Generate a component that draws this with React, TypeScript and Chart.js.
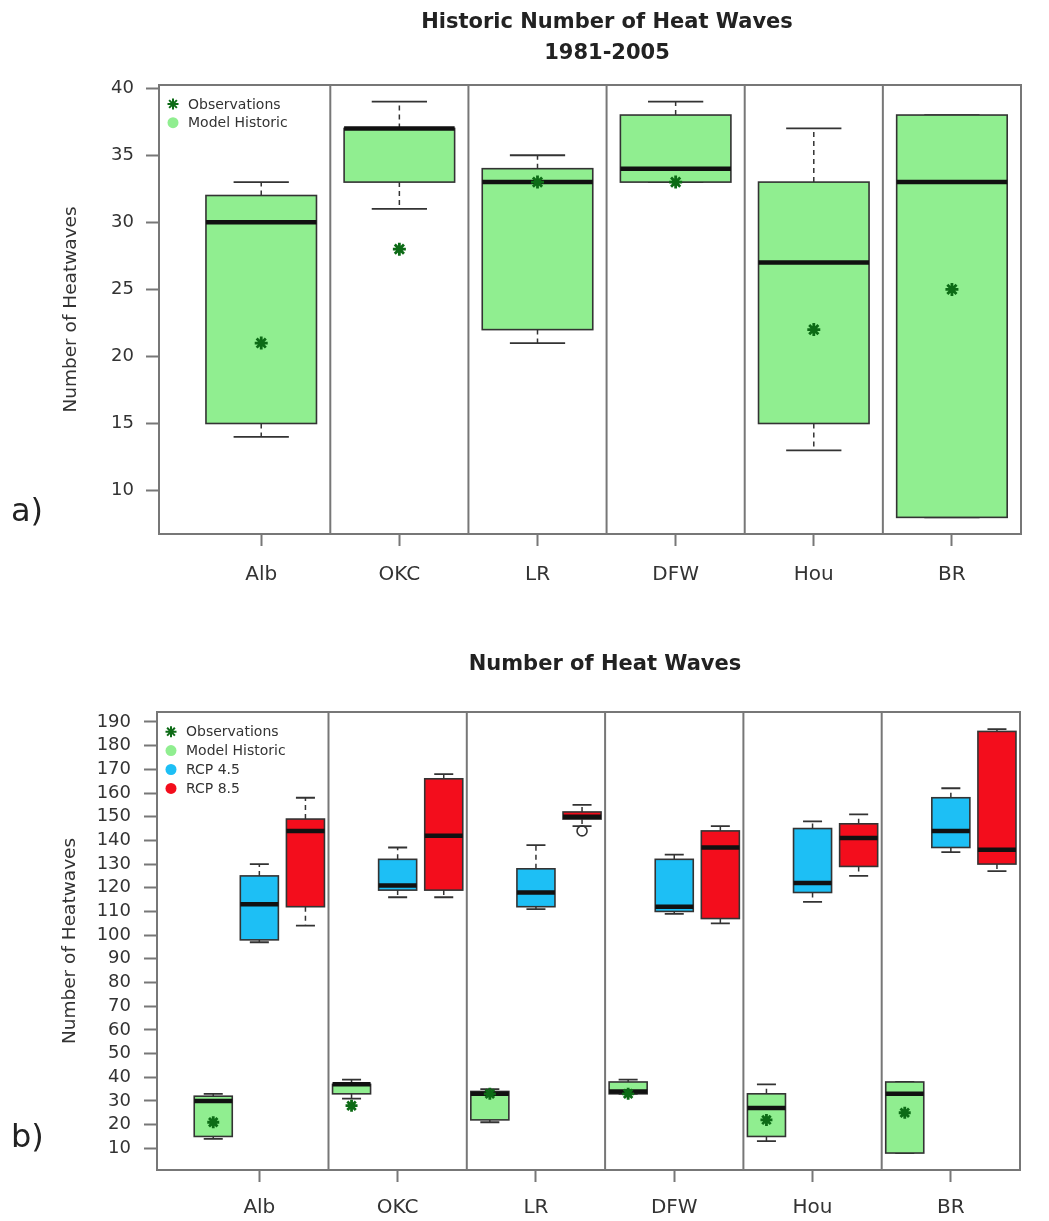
import { useEffect, useRef } from 'react';
import { Chart, registerables } from 'chart.js';

Chart.register(...registerables);

// ---------- DATA ----------
const categories = ['Alb', 'OKC', 'LR', 'DFW', 'Hou', 'BR'];

// Observations (single values per city)
const observations = [21, 28, 33, 33, 22, 25];

// Model Historic (1981-2005) box statistics
const histLow = [14, 31, 21, 33, 13, 8];
const histQ1 = [15, 33, 22, 33, 15, 8];
const histMed = [30, 37, 33, 34, 27, 33];
const histQ3 = [32, 37, 34, 38, 33, 38];
const histHigh = [33, 39, 35, 39, 37, 38];

// RCP 4.5 box statistics
const r45Low = [97, 116, 111, 109, 114, 135];
const r45Q1 = [98, 119, 112, 110, 118, 137];
const r45Med = [113, 121, 118, 112, 122, 144];
const r45Q3 = [125, 132, 128, 132, 145, 158];
const r45High = [130, 137, 138, 134, 148, 162];

// RCP 8.5 box statistics
const r85Low = [104, 116, 146, 105, 125, 127];
const r85Q1 = [112, 119, 149, 107, 129, 130];
const r85Med = [144, 142, 150, 137, 141, 136];
const r85Q3 = [149, 166, 152, 144, 147, 186];
const r85High = [158, 168, 155, 146, 151, 187];
const r85Outliers: number[][] = [[], [], [144], [], [], []];

// Tick labels
const yTicksTop = [10, 15, 20, 25, 30, 35, 40];
const yTicksBottom = [10, 20, 30, 40, 50, 60, 70, 80, 90, 100, 110, 120, 130, 140, 150, 160, 170, 180, 190];

// ---------- STYLE ----------
const FONT = "'DejaVu Sans', 'Liberation Sans', sans-serif";
const C_GREEN = '#90EE90';
const C_BLUE = '#1DBFF5';
const C_RED = '#F30D1C';
const C_OBS = '#0d6b16';
const C_AXIS = '#777777';
const C_TEXT = '#333333';

Chart.defaults.font.family = FONT;

type Group = {
  offset: number;
  width: number;
  color: string;
  low: number[];
  q1: number[];
  med: number[];
  q3: number[];
  high: number[];
  outliers?: number[][];
};

type LegendItem = { label: string; kind: 'star' | 'dot'; color: string };

function drawStar(ctx: CanvasRenderingContext2D, x: number, y: number, r: number, color: string) {
  ctx.save();
  ctx.strokeStyle = color;
  ctx.lineWidth = 2;
  ctx.beginPath();
  ctx.moveTo(x - r, y); ctx.lineTo(x + r, y);
  ctx.moveTo(x, y - r); ctx.lineTo(x, y + r);
  const d = r * 0.7071;
  ctx.moveTo(x - d, y - d); ctx.lineTo(x + d, y + d);
  ctx.moveTo(x - d, y + d); ctx.lineTo(x + d, y - d);
  ctx.stroke();
  ctx.restore();
}

const boxPlugin = {
  id: 'boxes',
  beforeDatasetsDraw(chart: any, _args: any, opts: any) {
    const { ctx, chartArea } = chart;
    const xs = chart.scales.x;
    const ys = chart.scales.y;
    ctx.save();
    // separators between cities
    ctx.strokeStyle = C_AXIS;
    ctx.lineWidth = 2;
    for (let k = 1; k < categories.length; k++) {
      const px = xs.getPixelForValue(k + 0.5);
      ctx.beginPath();
      ctx.moveTo(px, chartArea.top);
      ctx.lineTo(px, chartArea.bottom);
      ctx.stroke();
    }
    // frame
    ctx.strokeRect(chartArea.left, chartArea.top, chartArea.right - chartArea.left, chartArea.bottom - chartArea.top);

    const groups: Group[] = opts.groups;
    groups.forEach((g) => {
      categories.forEach((_c, i) => {
        const cx = xs.getPixelForValue(i + 1 + g.offset);
        const half = (xs.getPixelForValue(g.width) - xs.getPixelForValue(0)) / 2;
        const yLow = ys.getPixelForValue(g.low[i]);
        const yQ1 = ys.getPixelForValue(g.q1[i]);
        const yMed = ys.getPixelForValue(g.med[i]);
        const yQ3 = ys.getPixelForValue(g.q3[i]);
        const yHigh = ys.getPixelForValue(g.high[i]);
        // whiskers (dashed)
        ctx.strokeStyle = '#333';
        ctx.lineWidth = 1.5;
        ctx.setLineDash([5, 4]);
        ctx.beginPath();
        ctx.moveTo(cx, yQ3); ctx.lineTo(cx, yHigh);
        ctx.moveTo(cx, yQ1); ctx.lineTo(cx, yLow);
        ctx.stroke();
        ctx.setLineDash([]);
        // staples
        ctx.lineWidth = 1.8;
        ctx.beginPath();
        ctx.moveTo(cx - half / 2, yHigh); ctx.lineTo(cx + half / 2, yHigh);
        ctx.moveTo(cx - half / 2, yLow); ctx.lineTo(cx + half / 2, yLow);
        ctx.stroke();
        // box
        ctx.fillStyle = g.color;
        ctx.fillRect(cx - half, yQ3, 2 * half, yQ1 - yQ3);
        ctx.strokeStyle = '#333';
        ctx.lineWidth = 1.6;
        ctx.strokeRect(cx - half, yQ3, 2 * half, yQ1 - yQ3);
        // median
        ctx.strokeStyle = '#111';
        ctx.lineWidth = 4.5;
        ctx.beginPath();
        ctx.moveTo(cx - half, yMed); ctx.lineTo(cx + half, yMed);
        ctx.stroke();
        // outliers
        (g.outliers?.[i] || []).forEach((v) => {
          const oy = ys.getPixelForValue(v);
          ctx.strokeStyle = '#333';
          ctx.lineWidth = 1.6;
          ctx.beginPath();
          ctx.arc(cx, oy, 5, 0, Math.PI * 2);
          ctx.stroke();
        });
      });
    });
    ctx.restore();
  },
  afterDraw(chart: any, _args: any, opts: any) {
    const { ctx } = chart;
    ctx.save();
    // titles
    ctx.fillStyle = '#222';
    ctx.textAlign = 'center';
    ctx.textBaseline = 'alphabetic';
    ctx.font = `bold 21px ${FONT}`;
    (opts.titles || []).forEach((t: any) => ctx.fillText(t.text, t.x, t.y));
    // panel label
    ctx.textAlign = 'left';
    ctx.font = `32px ${FONT}`;
    ctx.fillText(opts.panel.text, opts.panel.x, opts.panel.y);
    // legend
    const lg = opts.legend;
    ctx.font = `14px ${FONT}`;
    ctx.textBaseline = 'middle';
    lg.items.forEach((it: LegendItem, k: number) => {
      const y = lg.y0 + k * lg.dy;
      if (it.kind === 'star') {
        drawStar(ctx, lg.x, y, 5.5, it.color);
      } else {
        ctx.fillStyle = it.color;
        ctx.beginPath();
        ctx.arc(lg.x, y, 5.5, 0, Math.PI * 2);
        ctx.fill();
      }
      ctx.fillStyle = C_TEXT;
      ctx.fillText(it.label, lg.x + 15, y + 1);
    });
    ctx.restore();
  },
};

function makeConfig(p: any): any {
  return {
    type: 'scatter',
    data: {
      datasets: [
        {
          label: 'Observations',
          data: observations.map((v, i) => ({ x: i + 1 + p.obsOffset, y: v })),
          pointStyle: 'star',
          radius: p.obsRadius,
          borderWidth: 2.8,
          borderColor: C_OBS,
          backgroundColor: C_OBS,
        },
      ],
    },
    options: {
      responsive: false,
      animation: false,
      devicePixelRatio: 1,
      events: [],
      layout: { padding: { top: p.padTop, right: p.padRight, left: 0, bottom: 0 } },
      plugins: {
        legend: { display: false },
        tooltip: { enabled: false },
        title: { display: false },
        boxes: {
          groups: p.groups,
          titles: p.titles,
          panel: p.panel,
          legend: p.legend,
        },
      },
      scales: {
        x: {
          type: 'linear',
          min: 0.26,
          max: 6.5,
          afterBuildTicks: (s: any) => {
            s.ticks = categories.map((_c, i) => ({ value: i + 1 }));
          },
          afterFit: (s: any) => {
            s.height = p.xHeight;
          },
          ticks: {
            callback: (v: any) => categories[Math.round(v) - 1] ?? '',
            font: { size: 20, family: FONT },
            color: C_TEXT,
            padding: p.xLabelPad,
            maxRotation: 0,
            autoSkip: false,
          },
          grid: { display: true, drawOnChartArea: false, drawTicks: true, tickLength: 12, tickColor: C_AXIS, tickWidth: 2 },
          border: { display: false },
        },
        y: {
          type: 'linear',
          min: p.yMin,
          max: p.yMax,
          afterBuildTicks: (s: any) => {
            s.ticks = p.yTicks.map((v: number) => ({ value: v }));
          },
          afterFit: (s: any) => {
            s.width = p.yWidth;
          },
          ticks: {
            font: { size: 18, family: FONT },
            color: C_TEXT,
            padding: p.yLabelPad,
            autoSkip: false,
          },
          grid: { display: true, drawOnChartArea: false, drawTicks: true, tickLength: 13, tickColor: C_AXIS, tickWidth: 2 },
          border: { display: false },
          title: {
            display: true,
            text: 'Number of Heatwaves',
            color: C_TEXT,
            font: { size: 18.5, family: FONT },
            padding: { top: p.yTitlePad, bottom: 0 },
          },
        },
      },
    },
    plugins: [boxPlugin],
  };
}

const topGroups: Group[] = [
  { offset: 0, width: 0.8, color: C_GREEN, low: histLow, q1: histQ1, med: histMed, q3: histQ3, high: histHigh },
];

const bottomGroups: Group[] = [
  { offset: -1 / 3, width: 0.275, color: C_GREEN, low: histLow, q1: histQ1, med: histMed, q3: histQ3, high: histHigh },
  { offset: 0, width: 0.275, color: C_BLUE, low: r45Low, q1: r45Q1, med: r45Med, q3: r45Q3, high: r45High },
  { offset: 1 / 3, width: 0.275, color: C_RED, low: r85Low, q1: r85Q1, med: r85Med, q3: r85Q3, high: r85High, outliers: r85Outliers },
];

export default function App() {
  const ref1 = useRef<HTMLCanvasElement>(null);
  const ref2 = useRef<HTMLCanvasElement>(null);

  useEffect(() => {
    document.body.style.margin = '0';
    const c1 = new Chart(
      ref1.current as HTMLCanvasElement,
      makeConfig({
        groups: topGroups,
        obsOffset: 0,
        obsRadius: 6.5,
        yMin: 6.76,
        yMax: 40.24,
        yTicks: yTicksTop,
        padTop: 85,
        padRight: 28,
        xHeight: 76,
        yWidth: 159,
        xLabelPad: 17,
        yLabelPad: 12,
        yTitlePad: 60,
        titles: [
          { text: 'Historic Number of Heat Waves', x: 607, y: 28 },
          { text: '1981-2005', x: 607, y: 59 },
        ],
        panel: { text: 'a)', x: 11, y: 521 },
        legend: {
          x: 173,
          y0: 104,
          dy: 18.7,
          items: [
            { label: 'Observations', kind: 'star', color: C_OBS },
            { label: 'Model Historic', kind: 'dot', color: C_GREEN },
          ],
        },
      })
    );
    const c2 = new Chart(
      ref2.current as HTMLCanvasElement,
      makeConfig({
        groups: bottomGroups,
        obsOffset: -1 / 3,
        obsRadius: 6,
        yMin: 0.84,
        yMax: 194.2,
        yTicks: yTicksBottom,
        padTop: 102,
        padRight: 29,
        xHeight: 51,
        yWidth: 157,
        xLabelPad: 14,
        yLabelPad: 13,
        yTitlePad: 59,
        titles: [{ text: 'Number of Heat Waves', x: 605, y: 60 }],
        panel: { text: 'b)', x: 11, y: 537 },
        legend: {
          x: 171,
          y0: 121.7,
          dy: 18.9,
          items: [
            { label: 'Observations', kind: 'star', color: C_OBS },
            { label: 'Model Historic', kind: 'dot', color: C_GREEN },
            { label: 'RCP 4.5', kind: 'dot', color: C_BLUE },
            { label: 'RCP 8.5', kind: 'dot', color: C_RED },
          ],
        },
      })
    );
    return () => {
      c1.destroy();
      c2.destroy();
    };
  }, []);

  return (
    <div style={{ position: 'relative', width: 1049, height: 1221, background: '#fff' }}>
      <canvas ref={ref1} width={1049} height={610} style={{ position: 'absolute', left: 0, top: 0, display: 'block' }} />
      <canvas ref={ref2} width={1049} height={611} style={{ position: 'absolute', left: 0, top: 610, display: 'block' }} />
    </div>
  );
}
